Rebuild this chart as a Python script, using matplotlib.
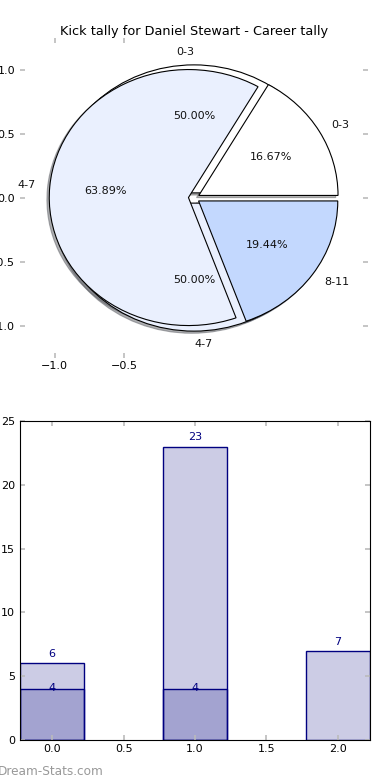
import matplotlib
matplotlib.use('Agg')
import matplotlib.pyplot as plt

# kick tally data
groups = ['0-3', '4-7', '8-11']
career_kicks = [6, 23, 7]
sub_groups = ['0-3', '4-7']
sub_kicks = [4, 4]

pie_colors = ['white', '#eaf0fe', '#c3d8fe']
navy_fill = (0, 0, 0.5, 0.2)

fig = plt.figure(figsize=(3.9, 7.8), dpi=100)

# ---- pie chart ----
ax1 = fig.add_axes([20/390, 1 - 358/780, 348/390, 320/780])
txt = dict(fontsize=8, color='#111111')
shadow = {'ox': -0.012, 'oy': -0.012, 'shade': 0.6}
ax1.pie(sub_kicks, labels=sub_groups, colors=pie_colors[:2], explode=[0.04, 0.04],
        autopct='%1.2f%%', shadow=shadow, textprops=txt,
        wedgeprops=dict(edgecolor='black', linewidth=0.8))
ax1.pie(career_kicks, labels=groups, colors=pie_colors, explode=[0.04, 0.04, 0.04],
        autopct='%1.2f%%', shadow=shadow, textprops=txt,
        wedgeprops=dict(edgecolor='black', linewidth=0.8))
ax1.set_aspect('auto')
ax1.set_xlim(-1.25, 1.25)
ax1.set_ylim(-1.25, 1.25)
ax1.set_xticks([-1.0, -0.5])
ax1.set_yticks([-1.0, -0.5, 0.0, 0.5, 1.0])
ax1.set_frame_on(False)
ax1.tick_params(direction='in', length=3.5, width=1.2, color='#bbbbbb',
                labelsize=8, top=True, right=True)
ax1.tick_params(axis='x', pad=2)
ax1.tick_params(axis='y', pad=3.5)
ax1.set_title('Kick tally for Daniel Stewart - Career tally', fontsize=9.3, pad=2)

# ---- bar chart ----
ax2 = fig.add_axes([20/390, 1 - 740/780, 350/390, 319/780])
x = list(range(len(career_kicks)))
bars = ax2.bar(x, career_kicks, width=0.45, color=navy_fill, edgecolor='navy', linewidth=1)
bars2 = ax2.bar(x[:len(sub_kicks)], sub_kicks, width=0.45, color=navy_fill,
                edgecolor='navy', linewidth=1)
for b, v in zip(bars, career_kicks):
    ax2.annotate(str(v), (b.get_x() + b.get_width() / 2, v), xytext=(0, 3),
                 textcoords='offset points', ha='center', va='bottom',
                 color='navy', fontsize=8)
for b, v in zip(bars2, sub_kicks):
    ax2.text(b.get_x() + b.get_width() / 2, v + 0.1, str(v), ha='center', va='center',
             color='navy', fontsize=8)
ax2.set_xlim(-0.225, 2.225)
ax2.set_ylim(0, 25)
ax2.set_xticks([0.0, 0.5, 1.0, 1.5, 2.0])
ax2.set_yticks([0, 5, 10, 15, 20, 25])
ax2.tick_params(direction='in', length=3.5, width=1.2, color='#bbbbbb',
                labelsize=8, top=True, right=True)
ax2.tick_params(axis='x', pad=3)
ax2.tick_params(axis='y', pad=3.5)

fig.text(-0.005, 0.007, 'Dream-Stats.com', color='#999999', fontsize=8.7)

fig.savefig('out.png', dpi=100)
